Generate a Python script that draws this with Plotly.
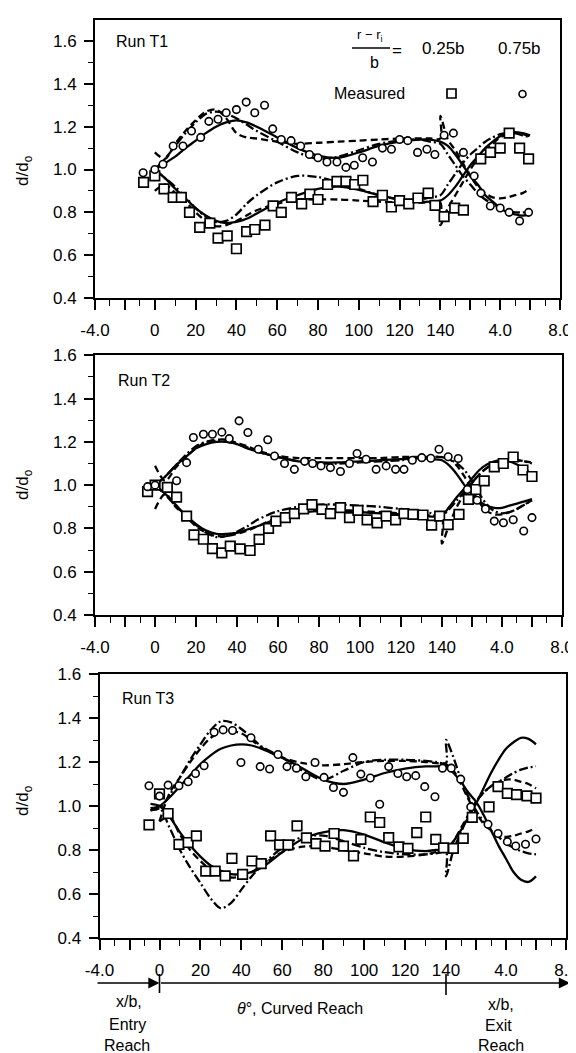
import plotly.graph_objects as go

W, H = 576, 1053
FONT = "Liberation Sans, Arial, sans-serif"
FACTOR = 7.33  # axis length (in degrees) of one x/b unit

# ---------------- tick definitions (reach, position, label) ----------------
XT_MAJOR_REACH = ["E", "E", "C", "C", "C", "C", "C", "C", "C", "C", "X", "X", "X", "X"]
XT_MAJOR_POS = [-4, -2, 0, 20, 40, 60, 80, 100, 120, 140, 2, 4, 6, 8]
XT_MAJOR_TEXT = ["-4.0", "", "0", "20", "40", "60", "80", "100", "120", "140", "", "4.0", "", "8.0"]
XT_MINOR_REACH = ["E", "E", "C", "C", "C", "C", "C", "C", "C", "X", "X", "X", "X"]
XT_MINOR_POS = [-3, -1, 10, 30, 50, 70, 90, 110, 130, 1, 3, 5, 7]
YT_MAJOR = [0.4, 0.6, 0.8, 1.0, 1.2, 1.4, 1.6]
YT_MINOR = [0.5, 0.7, 0.9, 1.1, 1.3, 1.5]

# ---------------- station grid of the computed curves ----------------
CURVE_REACH = ["E", "E"] + ["C"] * 21 + ["X"] * 13
CURVE_POS = ([-0.6, 0.0]
             + [0, 5, 10, 15, 20, 25, 30, 35, 40, 45, 50, 60, 70, 80, 90, 100, 110, 120, 130, 135, 140]
             + [0, 0.5, 1, 1.5, 2, 2.5, 3, 3.5, 4, 4.5, 5, 5.5, 6])

# ---------------- Run T1 ----------------
T1_SQ_REACH = "E" + "C" * 32 + "X" * 9
T1_SQ_POS = [-0.75, 0, 4.5, 9, 13, 17, 22, 27, 31, 35.5, 40, 45, 49, 54, 58, 62, 67, 72, 76, 80, 84.7,
             89.3, 93.7, 98, 102, 107, 111.6, 116, 120, 124.5, 129, 134, 137.4,
             0.25, 0.96, 1.54, 2.7, 3.35, 4.0, 4.6, 5.3, 5.9]
T1_SQ_D = [0.94, 0.97, 0.91, 0.87, 0.87, 0.80, 0.73, 0.75, 0.68, 0.69, 0.63, 0.71, 0.72, 0.74, 0.83, 0.80,
           0.87, 0.84, 0.885, 0.86, 0.93, 0.945, 0.945, 0.93, 0.95, 0.85, 0.88, 0.825, 0.855, 0.84, 0.867,
           0.89, 0.833, 0.78, 0.82, 0.81, 1.05, 1.08, 1.10, 1.17, 1.10, 1.05]
T1_CI_REACH = "E" + "C" * 32 + "X" * 10
T1_CI_POS = [-0.78, 0, 4, 9, 13.8, 18, 22.5, 26.5, 31, 35, 40, 44.8, 49, 53.8, 57.8, 62, 66.8, 71.5, 75.8,
             80, 84.4, 89.3, 93.7, 97.8, 101.9, 106.7, 111.6, 116, 120, 124, 128.8, 133.4, 137.3,
             0.25, 0.87, 1.54, 2.26, 2.71, 3.34, 4.0, 4.6, 5.3, 5.9]
T1_CI_D = [0.985, 1.0, 1.025, 1.11, 1.11, 1.18, 1.15, 1.225, 1.235, 1.265, 1.28, 1.315, 1.265, 1.30, 1.19,
           1.14, 1.135, 1.11, 1.07, 1.055, 1.035, 1.035, 1.01, 1.02, 1.055, 1.035, 1.10, 1.095, 1.14, 1.135,
           1.08, 1.095, 1.07, 1.16, 1.17, 1.08, 0.97, 0.89, 0.83, 0.82, 0.80, 0.76, 0.80]
T1_UP_SOLID = [None, None, 1.0, 1.03, 1.06, 1.10, 1.135, 1.17, 1.20, 1.22, 1.23, 1.22, 1.20, 1.15, 1.10,
               1.065, 1.055, 1.08, 1.11, 1.13, 1.14, 1.14, 1.13,
               1.13, 1.11, 1.07, 1.02, 0.97, 0.93, 0.88, 0.85, 0.82, 0.80, 0.79, 0.785, 0.79]
T1_UP_DASH = [None, None, 1.08, 1.05, 1.12, 1.18, 1.23, 1.27, 1.28, 1.24, 1.17, 1.15, 1.145, 1.13, 1.12,
              1.125, 1.13, 1.135, 1.14, 1.145, 1.145, 1.145, 1.145,
              1.25, 1.14, 1.09, 1.03, 0.97, 0.92, 0.89, 0.87, 0.865, 0.87, 0.88, 0.89, 0.91]
T1_UP_DASHDOT = [None, None, 1.0, 1.05, 1.11, 1.17, 1.22, 1.26, 1.27, 1.26, 1.24, 1.21, 1.18, 1.13, 1.08,
                 1.05, 1.06, 1.09, 1.12, 1.135, 1.14, 1.13, 1.12,
                 1.12, 1.07, 1.02, 0.97, 0.93, 0.89, 0.86, 0.84, 0.82, 0.81, 0.80, 0.80, 0.80]
T1_LO_SOLID = [None, None, 1.0, 0.96, 0.91, 0.865, 0.82, 0.785, 0.76, 0.75, 0.755, 0.77, 0.795, 0.845, 0.88,
               0.91, 0.92, 0.905, 0.88, 0.86, 0.85, 0.85, 0.855,
               0.855, 0.88, 0.92, 0.97, 1.02, 1.06, 1.10, 1.13, 1.155, 1.17, 1.175, 1.17, 1.16]
T1_LO_DASH = [None, None, 0.90, 0.93, 0.89, 0.85, 0.80, 0.76, 0.735, 0.74, 0.76, 0.785, 0.81, 0.84, 0.86,
              0.86, 0.86, 0.855, 0.85, 0.845, 0.845, 0.845, 0.845,
              0.74, 0.82, 0.88, 0.94, 1.0, 1.05, 1.09, 1.12, 1.15, 1.165, 1.17, 1.165, 1.155]
T1_LO_DASHDOT = [None, None, 1.0, 0.96, 0.92, 0.87, 0.82, 0.78, 0.755, 0.76, 0.79, 0.84, 0.88, 0.94, 0.97,
                 0.965, 0.94, 0.91, 0.88, 0.86, 0.86, 0.87, 0.88,
                 0.88, 0.93, 0.98, 1.03, 1.07, 1.10, 1.13, 1.15, 1.165, 1.17, 1.17, 1.16, 1.15]

# ---------------- Run T2 ----------------
T2_SQ_REACH = "E" + "C" * 32 + "X" * 10
T2_SQ_POS = [-0.5, 0, 6, 10.5, 15.4, 19, 23.6, 28, 32.6, 36.7, 41.5, 46.4, 50.8, 55.4, 59, 63.6, 68, 72.5,
             76.6, 81.5, 85.6, 90.5, 94.9, 99, 103.5, 108.4, 112.8, 117.4, 121.5, 125.9, 130.8, 135, 138.9,
             0.42, 1.14, 1.77, 2.26, 2.82, 3.49, 4.09, 4.75, 5.4, 6.0]
T2_SQ_D = [0.97, 1.0, 0.99, 0.945, 0.857, 0.77, 0.75, 0.707, 0.687, 0.718, 0.706, 0.698, 0.749, 0.80, 0.834,
           0.85, 0.868, 0.89, 0.91, 0.888, 0.868, 0.896, 0.85, 0.883, 0.84, 0.826, 0.857, 0.84, 0.868, 0.865,
           0.862, 0.815, 0.857, 0.818, 0.865, 0.934, 0.98, 1.02, 1.084, 1.10, 1.13, 1.07, 1.04]
T2_CI_REACH = "E" + "C" * 31 + "X" * 10
T2_CI_POS = [-0.5, 0, 10.5, 15.4, 18.7, 23.6, 28, 32.6, 36.2, 41, 45.3, 50.4, 55, 58.3, 63.2, 68, 73, 76.9,
             81, 85.6, 90.5, 94.9, 98.6, 103, 107.9, 112.8, 117.4, 121.5, 125.6, 130.2, 134.6, 138.6,
             0.42, 1.09, 1.70, 2.35, 2.9, 3.49, 4.1, 4.75, 5.45, 6.0]
T2_CI_D = [0.993, 1.0, 1.02, 1.104, 1.22, 1.235, 1.235, 1.245, 1.215, 1.297, 1.243, 1.166, 1.21, 1.135, 1.10,
           1.073, 1.11, 1.10, 1.089, 1.081, 1.063, 1.10, 1.146, 1.12, 1.073, 1.089, 1.073, 1.073, 1.115, 1.127,
           1.124, 1.166, 1.131, 1.123, 0.98, 0.93, 0.89, 0.834, 0.826, 0.84, 0.788, 0.85]
T2_UP_SOLID = [None, None, 1.0, 1.04, 1.09, 1.13, 1.17, 1.19, 1.20, 1.20, 1.19, 1.17, 1.155, 1.13, 1.11,
               1.105, 1.105, 1.11, 1.115, 1.12, 1.125, 1.12, 1.115,
               1.115, 1.09, 1.05, 1.0, 0.96, 0.925, 0.905, 0.895, 0.895, 0.905, 0.915, 0.925, 0.935]
T2_UP_DASH = [None, None, 1.09, 1.02, 1.08, 1.13, 1.17, 1.20, 1.21, 1.21, 1.195, 1.18, 1.16, 1.135, 1.125,
              1.125, 1.125, 1.125, 1.125, 1.13, 1.13, 1.13, 1.13,
              1.13, 1.12, 1.09, 1.04, 0.98, 0.92, 0.88, 0.865, 0.865, 0.875, 0.89, 0.91, 0.93]
T2_UP_DASHDOT = [None, None, 1.0, 1.04, 1.09, 1.14, 1.18, 1.20, 1.205, 1.20, 1.19, 1.175, 1.155, 1.13, 1.11,
                 1.10, 1.10, 1.105, 1.11, 1.115, 1.125, 1.13, 1.13,
                 1.13, 1.12, 1.10, 1.07, 1.02, 0.96, 0.91, 0.88, 0.87, 0.875, 0.89, 0.91, 0.93]
T2_LO_SOLID = [None, None, 1.0, 0.96, 0.91, 0.86, 0.82, 0.79, 0.775, 0.775, 0.78, 0.795, 0.81, 0.845, 0.87,
               0.88, 0.88, 0.875, 0.87, 0.865, 0.86, 0.855, 0.86,
               0.86, 0.90, 0.945, 0.985, 1.03, 1.07, 1.095, 1.11, 1.115, 1.11, 1.095, 1.075, 1.05]
T2_LO_DASH = [None, None, 0.89, 0.96, 0.90, 0.855, 0.81, 0.78, 0.765, 0.765, 0.775, 0.79, 0.81, 0.85, 0.875,
              0.885, 0.885, 0.88, 0.875, 0.87, 0.865, 0.86, 0.86,
              0.73, 0.82, 0.90, 0.96, 1.01, 1.05, 1.08, 1.10, 1.11, 1.115, 1.115, 1.11, 1.105]
T2_LO_DASHDOT = [None, None, 1.0, 0.955, 0.905, 0.86, 0.815, 0.78, 0.76, 0.765, 0.785, 0.81, 0.84, 0.88, 0.90,
                 0.91, 0.91, 0.905, 0.90, 0.89, 0.88, 0.87, 0.86,
                 0.86, 0.89, 0.93, 0.97, 1.01, 1.05, 1.08, 1.10, 1.11, 1.115, 1.115, 1.11, 1.10]

# ---------------- Run T3 ----------------
T3_SQ_REACH = "E" + "C" * 32 + "X" * 9
T3_SQ_POS = [-0.7, 0, 4.2, 9.5, 14, 18, 22.6, 27.2, 32.1, 35.4, 40.6, 45.2, 49.7, 54.3, 58.7, 62.8, 67.2,
             71.8, 76.5, 80.9, 85.3, 89.9, 94.8, 98.4, 103, 107.6, 112, 117, 121.4, 125.7, 130.1, 135, 138.8,
             0.49, 1.15, 1.75, 2.87, 3.47, 4.09, 4.7, 5.4, 6.0]
T3_SQ_D = [0.914, 1.055, 0.966, 0.826, 0.834, 0.864, 0.704, 0.704, 0.682, 0.762, 0.689, 0.75, 0.738, 0.864,
           0.823, 0.823, 0.91, 0.855, 0.829, 0.818, 0.875, 0.818, 0.773, 0.848, 0.95, 0.925, 0.856, 0.814,
           0.807, 0.879, 0.95, 0.848, 0.81, 0.807, 0.853, 0.948, 0.996, 1.088, 1.057, 1.052, 1.046, 1.036]
T3_CI_REACH = "E" + "C" * 32 + "X" * 9
T3_CI_POS = [-0.7, 0, 4.2, 9.5, 14, 17.6, 21.8, 26.7, 31.1, 35.7, 39.8, 44.7, 49.2, 53.8, 57.9, 62.3, 66.9,
             71.5, 76, 80.4, 85, 89.9, 94.5, 98.4, 103, 107.6, 112, 116.5, 120.8, 125.2, 129.6, 134.6, 138.3,
             0.35, 0.98, 1.65, 2.8, 3.47, 4.09, 4.65, 5.3, 6.0]
T3_CI_D = [1.092, 1.045, 1.095, 1.092, 1.11, 1.148, 1.183, 1.335, 1.346, 1.343, 1.198, 1.31, 1.179, 1.168,
           1.234, 1.179, 1.172, 1.133, 1.198, 1.13, 1.084, 1.062, 1.22, 1.145, 1.127, 1.008, 1.179, 1.148,
           1.133, 1.138, 1.088, 1.042, 1.172, 1.172, 1.122, 0.996, 0.917, 0.875, 0.838, 0.818, 0.826, 0.85]
T3_UP_SOLID = [0.99, 1.0, 1.0, 1.04, 1.09, 1.14, 1.19, 1.23, 1.26, 1.275, 1.28, 1.275, 1.26, 1.22, 1.17,
               1.12, 1.10, 1.12, 1.15, 1.17, 1.18, 1.18, 1.18,
               1.18, 1.15, 1.11, 1.06, 1.02, 0.96, 0.89, 0.82, 0.76, 0.70, 0.665, 0.655, 0.68]
T3_UP_DASH = [None, None, 0.93, 1.06, 1.13, 1.20, 1.26, 1.31, 1.335, 1.34, 1.33, 1.30, 1.265, 1.22, 1.195,
              1.185, 1.19, 1.20, 1.205, 1.205, 1.20, 1.195, 1.19,
              1.19, 1.16, 1.10, 1.03, 0.97, 0.92, 0.89, 0.87, 0.86, 0.865, 0.875, 0.885, 0.90]
T3_UP_DASHDOT = [0.98, 0.99, 0.99, 1.05, 1.13, 1.21, 1.28, 1.345, 1.385, 1.38, 1.35, 1.31, 1.27, 1.22, 1.16,
                 1.12, 1.16, 1.20, 1.21, 1.21, 1.205, 1.20, 1.195,
                 1.30, 1.22, 1.12, 1.04, 0.98, 0.93, 0.89, 0.86, 0.83, 0.81, 0.795, 0.785, 0.78]
T3_LO_SOLID = [1.01, 1.0, 1.0, 0.95, 0.88, 0.82, 0.77, 0.73, 0.705, 0.69, 0.69, 0.70, 0.72, 0.79, 0.85,
               0.88, 0.89, 0.87, 0.835, 0.805, 0.795, 0.80, 0.80,
               0.80, 0.84, 0.89, 0.95, 1.01, 1.08, 1.15, 1.21, 1.26, 1.29, 1.31, 1.305, 1.28]
T3_LO_DASH = [None, None, 0.93, 0.95, 0.87, 0.80, 0.75, 0.71, 0.685, 0.675, 0.68, 0.70, 0.73, 0.79, 0.815,
              0.815, 0.80, 0.785, 0.77, 0.77, 0.78, 0.79, 0.80,
              0.80, 0.84, 0.90, 0.96, 1.02, 1.06, 1.09, 1.11, 1.12, 1.12, 1.11, 1.10, 1.08]
T3_LO_DASHDOT = [0.98, 0.99, 0.99, 0.90, 0.80, 0.72, 0.65, 0.58, 0.535, 0.56, 0.62, 0.68, 0.73, 0.81, 0.86,
                 0.865, 0.84, 0.81, 0.79, 0.78, 0.78, 0.785, 0.79,
                 0.68, 0.80, 0.88, 0.96, 1.02, 1.06, 1.09, 1.11, 1.13, 1.15, 1.165, 1.175, 1.18]

RUN_LABELS = ["Run T1", "Run T2", "Run T3"]


def to_u(reach, pos):
    """Map a station (reach code, x/b or degrees) onto the composite axis."""
    if reach == "E":
        return pos * FACTOR
    if reach == "C":
        return pos
    return 140 + pos * FACTOR


U_MIN, U_MAX = to_u("E", -4), to_u("X", 8)

# panel placement in pixels: (left, right, top, bottom, y max)
PANEL_BOX = [(87, 552, 12.3, 290, 1.697), (87, 554, 347.3, 607, 1.6), (91.5, 558, 666, 930, 1.6)]

runs = [
    (T1_SQ_REACH, T1_SQ_POS, T1_SQ_D, T1_CI_REACH, T1_CI_POS, T1_CI_D,
     [T1_UP_SOLID, T1_UP_DASH, T1_UP_DASHDOT, T1_LO_SOLID, T1_LO_DASH, T1_LO_DASHDOT]),
    (T2_SQ_REACH, T2_SQ_POS, T2_SQ_D, T2_CI_REACH, T2_CI_POS, T2_CI_D,
     [T2_UP_SOLID, T2_UP_DASH, T2_UP_DASHDOT, T2_LO_SOLID, T2_LO_DASH, T2_LO_DASHDOT]),
    (T3_SQ_REACH, T3_SQ_POS, T3_SQ_D, T3_CI_REACH, T3_CI_POS, T3_CI_D,
     [T3_UP_SOLID, T3_UP_DASH, T3_UP_DASHDOT, T3_LO_SOLID, T3_LO_DASH, T3_LO_DASHDOT]),
]
DASHES = ["solid", "7px,4px", "9px,3px,2px,3px"] * 2

fig = go.Figure()


def curve_xy(values):
    xs, ys = [], []
    for r, p, v in zip(CURVE_REACH, CURVE_POS, values):
        if v is None:
            continue
        x = to_u(r, p)
        if xs and abs(xs[-1] - x) < 1e-9 and abs(ys[-1] - v) < 1e-9:
            continue
        xs.append(x)
        ys.append(v)
    return xs, ys


for i, (sqr, sqp, sqd, cir, cip, cid, curves) in enumerate(runs):
    xa = "x" if i == 0 else f"x{i + 1}"
    ya = "y" if i == 0 else f"y{i + 1}"
    for vals, dash in zip(curves, DASHES):
        xs, ys = curve_xy(vals)
        fig.add_trace(go.Scatter(x=xs, y=ys, mode="lines", xaxis=xa, yaxis=ya,
                                 line=dict(color="black", width=2.3, dash=dash, shape="spline", smoothing=0.9),
                                 hoverinfo="skip"))
    fig.add_trace(go.Scatter(x=[to_u(r, p) for r, p in zip(sqr, sqp)], y=sqd, mode="markers",
                             xaxis=xa, yaxis=ya,
                             marker=dict(symbol="square", size=9.5, color="white",
                                         line=dict(color="black", width=1.7))))
    fig.add_trace(go.Scatter(x=[to_u(r, p) for r, p in zip(cir, cip)], y=cid, mode="markers",
                             xaxis=xa, yaxis=ya,
                             marker=dict(symbol="circle", size=7.5, color="white",
                                         line=dict(color="black", width=1.6))))

xt_vals = [to_u(r, p) for r, p in zip(XT_MAJOR_REACH, XT_MAJOR_POS)]
xm_vals = [to_u(r, p) for r, p in zip(XT_MINOR_REACH, XT_MINOR_POS)]
tickfont = dict(family=FONT, size=17, color="black")

layout = dict(width=W, height=H, margin=dict(l=0, r=0, t=0, b=0, autoexpand=False), showlegend=False,
              paper_bgcolor="white", plot_bgcolor="white", font=dict(family=FONT, color="black"))
annotations, shapes = [], []


def px(xp):
    return xp / W


def py(yp):
    return 1 - yp / H


for i, (x0, x1, y0, y1, ymax) in enumerate(PANEL_BOX):
    sfx = "" if i == 0 else str(i + 1)
    layout["xaxis" + sfx] = dict(
        domain=[px(x0), px(x1)], range=[U_MIN, U_MAX], anchor="y" + sfx, automargin=False,
        showline=True, linewidth=1.8, linecolor="black", mirror=True,
        ticks="outside", ticklen=10, tickwidth=1.6, tickcolor="black",
        tickmode="array", tickvals=xt_vals, ticktext=XT_MAJOR_TEXT,
        minor=dict(tickmode="array", tickvals=xm_vals, ticks="outside", ticklen=6,
                   tickwidth=1.4, tickcolor="black", showgrid=False),
        showgrid=False, zeroline=False, tickfont=tickfont, ticklabelstandoff=6)
    layout["yaxis" + sfx] = dict(
        domain=[py(y1), py(y0)], range=[0.4, ymax], anchor="x" + sfx, automargin=False,
        showline=True, linewidth=1.8, linecolor="black", mirror=True,
        ticks="outside", ticklen=9, tickwidth=1.6, tickcolor="black",
        tickmode="array", tickvals=YT_MAJOR, ticktext=[f"{v:.1f}" for v in YT_MAJOR],
        minor=dict(tickmode="array", tickvals=YT_MINOR, ticks="outside", ticklen=5,
                   tickwidth=1.4, tickcolor="black", showgrid=False),
        showgrid=False, zeroline=False, tickfont=tickfont, ticklabelstandoff=4)
    # run label
    label_y = [33, 373, 690][i]
    label_x = [106, 108, 112][i]
    annotations.append(dict(text=RUN_LABELS[i], x=px(label_x), y=py(label_y),
                            xref="paper", yref="paper", xanchor="left", yanchor="middle",
                            showarrow=False, font=dict(family=FONT, size=16, color="black")))
    # y-axis title
    yc = [163, 477, 793][i]
    annotations.append(dict(text="d/d<sub>o</sub>", x=px(16), y=py(yc),
                            xref="paper", yref="paper", xanchor="center", yanchor="middle",
                            textangle=-90, showarrow=False, font=dict(family=FONT, size=17, color="black")))


def panel_px(i, u):
    x0, x1 = PANEL_BOX[i][0], PANEL_BOX[i][1]
    return x0 + (u - U_MIN) / (U_MAX - U_MIN) * (x1 - x0)


# ---------------- key in Run T1 ----------------
kf = dict(family=FONT, size=17, color="black")
annotations += [
    dict(text="r − r<sub>i</sub>", x=px(362), y=py(27), font=dict(family=FONT, size=13, color="black")),
    dict(text="b", x=px(366), y=py(54), font=dict(family=FONT, size=16, color="black")),
    dict(text="=", x=px(389), y=py(42), font=kf),
    dict(text="0.25b", x=px(435), y=py(41), font=kf),
    dict(text="0.75b", x=px(511), y=py(41), font=kf),
    dict(text="Measured", x=px(361), y=py(85), font=dict(family=FONT, size=16, color="black")),
]
shapes.append(dict(type="line", xref="paper", yref="paper", x0=px(344), x1=px(382), y0=py(40), y1=py(40),
                   line=dict(color="black", width=1.4)))
shapes.append(dict(type="rect", xref="paper", yref="paper", x0=px(439), x1=px(448), y0=py(81), y1=py(90),
                   line=dict(color="black", width=1.7), fillcolor="white"))
shapes.append(dict(type="circle", xref="paper", yref="paper", x0=px(511), x1=px(518), y0=py(82.5), y1=py(89.5),
                   line=dict(color="black", width=1.6), fillcolor="white"))

# ---------------- reach arrow under Run T3 ----------------
ay_px = 975
u0_px = panel_px(2, to_u("C", 0))
u140_px = panel_px(2, to_u("C", 140))
annotations.append(dict(text="", x=px(u0_px), y=py(ay_px), xref="paper", yref="paper", showarrow=True,
                        ax=-(u0_px - 88), ay=0, arrowhead=2, arrowsize=1.4, arrowwidth=1.6, arrowcolor="black"))
annotations.append(dict(text="", x=px(562), y=py(ay_px), xref="paper", yref="paper", showarrow=True,
                        ax=-(562 - u0_px), ay=0, arrowhead=2, arrowsize=1.4, arrowwidth=1.6, arrowcolor="black"))
for xp, hh in [(u0_px, 10), (u140_px, 12)]:
    shapes.append(dict(type="line", xref="paper", yref="paper", x0=px(xp), x1=px(xp),
                       y0=py(ay_px - 9), y1=py(ay_px + hh), line=dict(color="black", width=1.6)))

bf = dict(family=FONT, size=16, color="black")
for t, xp, yp in [("x/b,", 121, 993), ("Entry", 119, 1016), ("Reach", 119, 1037),
                  ("<i>θ</i>°, Curved Reach", 292, 1000),
                  ("x/b,", 493, 996), ("Exit", 490, 1017), ("Reach", 493, 1037)]:
    annotations.append(dict(text=t, x=px(xp), y=py(yp), font=bf))

for a in annotations:
    a.setdefault("xref", "paper")
    a.setdefault("yref", "paper")
    a.setdefault("showarrow", False)
    a.setdefault("xanchor", "center")
    a.setdefault("yanchor", "middle")

layout["annotations"] = annotations
layout["shapes"] = shapes
fig.update_layout(**layout)
fig.write_html("out.html")
